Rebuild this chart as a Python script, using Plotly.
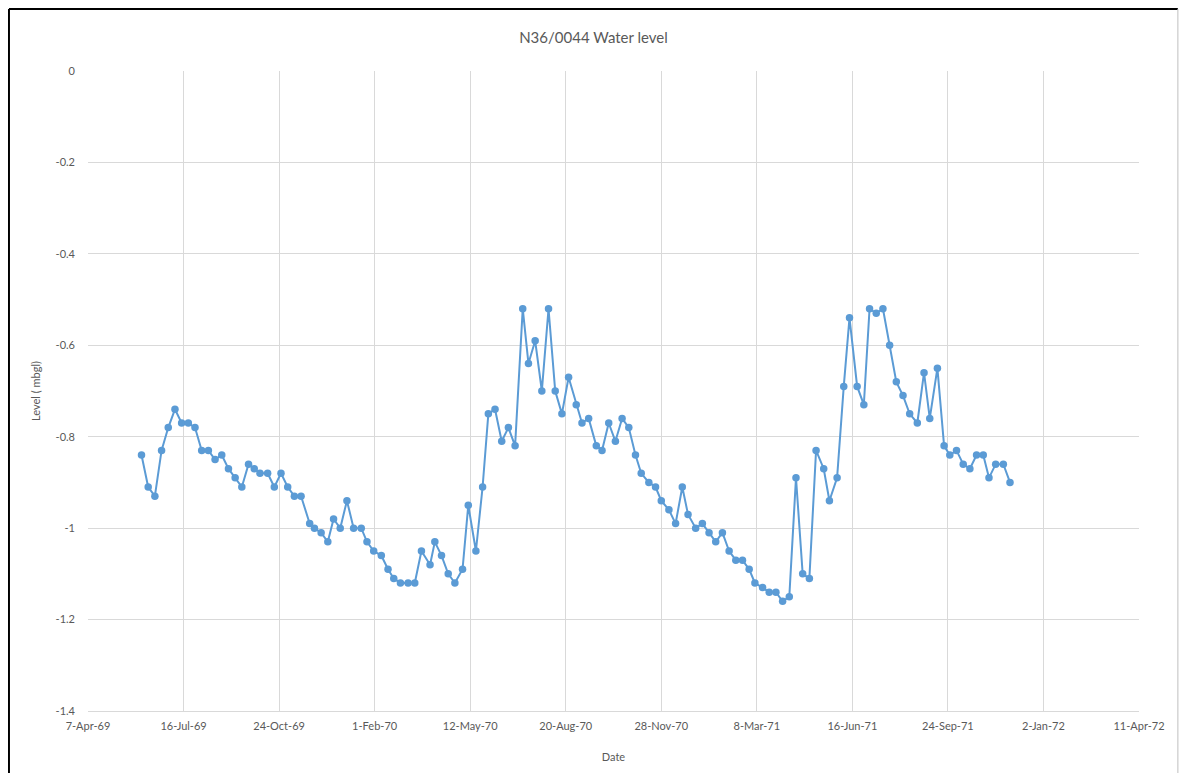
import plotly.graph_objects as go

dates = [
    "1969-06-02", "1969-06-09", "1969-06-16", "1969-06-23", "1969-06-30", "1969-07-07", "1969-07-14",
    "1969-07-21", "1969-07-28", "1969-08-04", "1969-08-11", "1969-08-18", "1969-08-25", "1969-09-01",
    "1969-09-08", "1969-09-15", "1969-09-22", "1969-09-28", "1969-10-04", "1969-10-12", "1969-10-19",
    "1969-10-26", "1969-11-02", "1969-11-09", "1969-11-16", "1969-11-25", "1969-11-30", "1969-12-07",
    "1969-12-14", "1969-12-20", "1969-12-27", "1970-01-03", "1970-01-10", "1970-01-18", "1970-01-24",
    "1970-01-31", "1970-02-08", "1970-02-15", "1970-02-21", "1970-02-28", "1970-03-08", "1970-03-15",
    "1970-03-22", "1970-03-31", "1970-04-05", "1970-04-12", "1970-04-19", "1970-04-26", "1970-05-04",
    "1970-05-10", "1970-05-18", "1970-05-25", "1970-05-31", "1970-06-07", "1970-06-14", "1970-06-21",
    "1970-06-28", "1970-07-06", "1970-07-12", "1970-07-19", "1970-07-26", "1970-08-02", "1970-08-09",
    "1970-08-16", "1970-08-23", "1970-08-31", "1970-09-06", "1970-09-13", "1970-09-21", "1970-09-27",
    "1970-10-04", "1970-10-11", "1970-10-18", "1970-10-25", "1970-11-01", "1970-11-07", "1970-11-15",
    "1970-11-22", "1970-11-28", "1970-12-06", "1970-12-13", "1970-12-20", "1970-12-26", "1971-01-03",
    "1971-01-10", "1971-01-17", "1971-01-24", "1971-01-31", "1971-02-07", "1971-02-14", "1971-02-21",
    "1971-02-28", "1971-03-06", "1971-03-14", "1971-03-21", "1971-03-28", "1971-04-04", "1971-04-11",
    "1971-04-18", "1971-04-25", "1971-05-02", "1971-05-09", "1971-05-17", "1971-05-23", "1971-05-31",
    "1971-06-07", "1971-06-13", "1971-06-21", "1971-06-28", "1971-07-04", "1971-07-11", "1971-07-18",
    "1971-07-25", "1971-08-01", "1971-08-08", "1971-08-15", "1971-08-23", "1971-08-30", "1971-09-05",
    "1971-09-13", "1971-09-20", "1971-09-26", "1971-10-03", "1971-10-10", "1971-10-17", "1971-10-24",
    "1971-10-31", "1971-11-06", "1971-11-13", "1971-11-21", "1971-11-28",
]

levels = [
    -0.84, -0.91, -0.93, -0.83, -0.78, -0.74, -0.77, -0.77, -0.78, -0.83,
    -0.83, -0.85, -0.84, -0.87, -0.89, -0.91, -0.86, -0.87, -0.88, -0.88,
    -0.91, -0.88, -0.91, -0.93, -0.93, -0.99, -1.00, -1.01, -1.03, -0.98,
    -1.00, -0.94, -1.00, -1.00, -1.03, -1.05, -1.06, -1.09, -1.11, -1.12,
    -1.12, -1.12, -1.05, -1.08, -1.03, -1.06, -1.10, -1.12, -1.09, -0.95,
    -1.05, -0.91, -0.75, -0.74, -0.81, -0.78, -0.82, -0.52, -0.64, -0.59,
    -0.70, -0.52, -0.70, -0.75, -0.67, -0.73, -0.77, -0.76, -0.82, -0.83,
    -0.77, -0.81, -0.76, -0.78, -0.84, -0.88, -0.90, -0.91, -0.94, -0.96,
    -0.99, -0.91, -0.97, -1.00, -0.99, -1.01, -1.03, -1.01, -1.05, -1.07,
    -1.07, -1.09, -1.12, -1.13, -1.14, -1.14, -1.16, -1.15, -0.89, -1.10,
    -1.11, -0.83, -0.87, -0.94, -0.89, -0.69, -0.54, -0.69, -0.73, -0.52,
    -0.53, -0.52, -0.60, -0.68, -0.71, -0.75, -0.77, -0.66, -0.76, -0.65,
    -0.82, -0.84, -0.83, -0.86, -0.87, -0.84, -0.84, -0.89, -0.86, -0.86,
    -0.90,
]

x_range = ["1969-04-07", "1972-04-11"]
y_ticks = [0, -0.2, -0.4, -0.6, -0.8, -1, -1.2, -1.4]
y_tick_text = ["0", "-0.2", "-0.4", "-0.6", "-0.8", "-1", "-1.2", "-1.4"]

FONT = "Lato, 'Open Sans', sans-serif"
GREY = "#595959"

fig = go.Figure()
fig.add_trace(go.Scatter(
    x=dates, y=levels, mode="lines+markers",
    line=dict(color="#5B9BD5", width=2),
    marker=dict(color="#5B9BD5", size=7.5),
    showlegend=False,
))

fig.update_layout(
    width=1171, height=765,
    margin=dict(l=80, r=40, t=63, b=62),
    paper_bgcolor="white", plot_bgcolor="white",
    font=dict(family=FONT, color=GREY, size=11),
    title=dict(text="N36/0044 Water level", x=0.5, xanchor="center",
               y=1 - 30 / 765, yanchor="middle",
               font=dict(family=FONT, size=15, color=GREY)),
    xaxis=dict(
        type="date", range=x_range,
        tick0=x_range[0], dtick=100 * 86400000,
        tickformat="%-d-%b-%y",
        showgrid=True, gridcolor="#D9D9D9", gridwidth=1,
        showline=True, linecolor="#D9D9D9",
        zeroline=False, ticks="",
        tickfont=dict(size=11, color=GREY),
        ticklabelstandoff=5,
        title=dict(text="Date", font=dict(size=11, color=GREY), standoff=22),
    ),
    yaxis=dict(
        range=[-1.4, 0], tickvals=y_ticks, ticktext=y_tick_text,
        showgrid=True, gridcolor="#D9D9D9", gridwidth=1,
        zeroline=False, ticks="", showline=False,
        tickfont=dict(size=11, color=GREY),
        ticklabelstandoff=12,
        title=dict(text="Level ( mbgl)", font=dict(size=11, color=GREY), standoff=12),
    ),
    shapes=[
        dict(type="line", xref="paper", yref="paper", x0=-0.0752, x1=-0.0752, y0=-0.15, y1=1.097,
             line=dict(color="black", width=2)),
        dict(type="line", xref="paper", yref="paper", x0=-0.0752, x1=1.037, y0=1.097, y1=1.097,
             line=dict(color="black", width=2)),
        dict(type="line", xref="paper", yref="paper", x0=1.037, x1=1.037, y0=-0.15, y1=1.097,
             line=dict(color="#BFBFBF", width=1)),
    ],
)

fig.write_html("out.html")
